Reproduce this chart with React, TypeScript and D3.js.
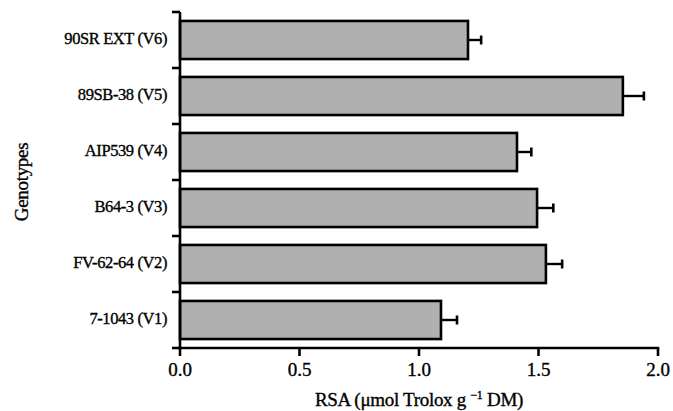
import React from "react";
import * as d3 from "d3";

const categories = ["90SR EXT (V6)", "89SB-38 (V5)", "AIP539 (V4)", "B64-3 (V3)", "FV-62-64 (V2)", "7-1043 (V1)"];
const values = [1.205, 1.853, 1.41, 1.494, 1.531, 1.092];
const errors = [0.055, 0.088, 0.06, 0.068, 0.068, 0.067];
const xTicks = [0, 0.5, 1.0, 1.5, 2.0];

const W = 673;
const H = 411;
const left = 180;
const right = 658;
const top = 12;
const bottom = 348;
const font = "'Liberation Serif', 'Times New Roman', serif";

export default function App() {
  const x = d3.scaleLinear().domain([0, 2]).range([left, right]);
  const y = d3.scaleBand<string>().domain(categories).range([top, bottom]).paddingInner(0.32).paddingOuter(0.16);
  const boundaries = d3.range(categories.length + 1).map((i) => top + i * ((bottom - top) / categories.length));
  const bw = y.bandwidth();
  const textStyle = { fill: "#000", stroke: "#000", strokeWidth: 0.35 };

  return (
    <svg width={W} height={H} style={{ position: "absolute", left: 0, top: 0, background: "#fff" }} fontFamily={font}>
      {categories.map((c, i) => {
        const y0 = y(c)!;
        const cy = y0 + bw / 2;
        const xe = x(values[i] + errors[i]);
        return (
          <g key={c}>
            <rect x={x(0)} y={y0} width={x(values[i]) - x(0)} height={bw} fill="#b0b0b0" stroke="#000" strokeWidth={2.6} />
            <line x1={x(values[i])} x2={xe} y1={cy} y2={cy} stroke="#000" strokeWidth={2.4} />
            <line x1={xe} x2={xe} y1={cy - 4.5} y2={cy + 4.5} stroke="#000" strokeWidth={2.6} />
            <text x={left - 13} y={cy + 4} textAnchor="end" fontSize={16.5} letterSpacing={-0.4} {...textStyle}>{c}</text>
          </g>
        );
      })}
      {/* y axis */}
      <line x1={left} x2={left} y1={top} y2={bottom + 1.3} stroke="#000" strokeWidth={2.6} />
      {boundaries.map((b, i) => (
        <line key={i} x1={left - 8} x2={left} y1={b} y2={b} stroke="#000" strokeWidth={2.6} />
      ))}
      {/* x axis */}
      <line x1={left - 1.3} x2={right + 1.3} y1={bottom} y2={bottom} stroke="#000" strokeWidth={2.6} />
      {xTicks.map((t) => (
        <g key={t}>
          <line x1={x(t)} x2={x(t)} y1={bottom} y2={bottom + 8} stroke="#000" strokeWidth={2.6} />
          <text x={x(t)} y={376} textAnchor="middle" fontSize={19} {...textStyle}>{t.toFixed(1)}</text>
        </g>
      ))}
      <text x={(left + right) / 2} y={406} textAnchor="middle" fontSize={19} letterSpacing={-0.3} {...textStyle}>
        RSA (μmol Trolox g <tspan dy={-7} fontSize={12}>−1</tspan><tspan dy={7}> DM)</tspan>
      </text>
      <text transform={`translate(28,182) rotate(-90)`} textAnchor="middle" fontSize={19} letterSpacing={-0.3} {...textStyle}>Genotypes</text>
    </svg>
  );
}
